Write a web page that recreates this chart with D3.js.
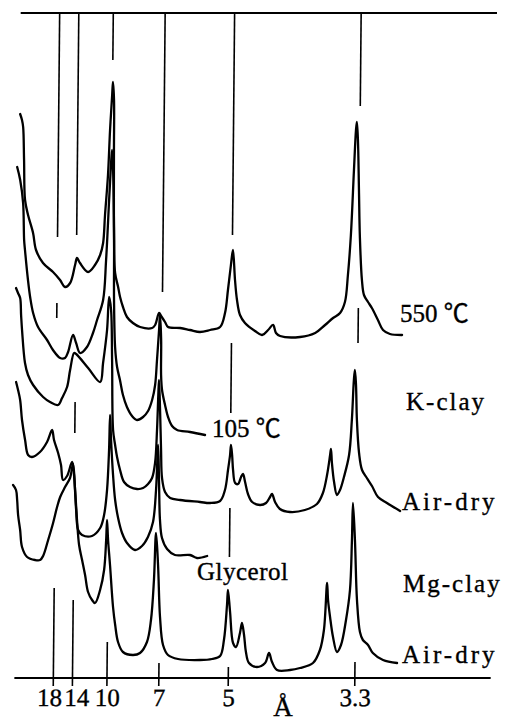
<!DOCTYPE html>
<html>
<head>
<meta charset="utf-8">
<script src="https://cdn.jsdelivr.net/npm/d3@7"></script>
<style>
body { margin: 0; background: #fff; }
.trace { fill: none; stroke: #000; stroke-width: 2.3; stroke-linejoin: round; stroke-linecap: round; }
.ref { stroke: #000; stroke-width: 1.6; }
.lbl { font-family: "Liberation Serif", "Noto Sans CJK JP", serif; fill: #000; stroke: #000; stroke-width: 0.35; }
</style>
</head>
<body>
<div id="chart"></div>
<script>
var svgWidth = 510;
var svgHeight = 722;

// d-spacings marked on the axis (Å)
var dTicks = [18, 14, 10, 7, 5, 3.3];
var tickLabels = ["18", "14", "10", "7", "5", "3.3"];

// frame extent in 2θ (deg)
var frameMin = 2.05;
var frameMax = 36.95;

// traces: [2θ (deg), stacked intensity]
var k550 = [[2.08,564],[2.22,558],[2.31,551],[2.40,518],[2.50,478],[2.73,463],[3.11,445],[3.34,428],[3.86,415],[4.60,406],[5.12,398],[5.49,391],[5.86,395],[6.21,413],[6.35,420],[6.57,415],[7.17,406],[7.67,413],[8.04,423],[8.25,435],[8.37,463],[8.56,503],[8.68,548],[8.81,583],[8.86,596],[8.95,578],[8.98,528],[9.04,448],[9.15,405],[9.38,391],[9.53,381],[9.75,371],[10.05,361],[10.49,355],[11.02,351],[11.90,350],[12.12,353],[12.40,365],[12.55,362],[12.84,356],[13.07,351],[13.95,350],[14.68,348],[15.41,346],[16.15,348],[16.88,351],[17.23,365],[17.43,388],[17.63,413],[17.77,428],[17.94,398],[18.10,378],[18.33,363],[18.70,355],[19.44,347],[19.96,343],[20.40,348],[20.76,353],[20.98,345],[21.28,342],[22.75,341],[23.85,345],[24.57,353],[25.15,360],[25.66,365],[26.01,376],[26.21,403],[26.40,443],[26.58,508],[26.70,548],[26.76,556],[26.85,538],[26.96,488],[27.06,441],[27.24,398],[27.40,383],[27.70,376],[27.99,370],[28.44,358],[28.82,348],[29.33,344],[30.22,343]];

var k105 = [[1.90,511],[2.13,498],[2.36,475],[2.46,438],[2.53,428],[2.77,398],[2.94,381],[3.17,365],[3.54,351],[4.21,338],[4.65,328],[5.18,320],[5.54,320],[5.76,326],[6.11,343],[6.34,335],[6.64,325],[7.14,331],[7.57,345],[7.86,358],[8.29,378],[8.48,418],[8.66,478],[8.77,513],[8.84,528],[8.93,508],[9.05,438],[9.09,378],[9.20,331],[9.36,311],[9.58,298],[9.81,283],[10.11,271],[10.49,262],[10.86,258],[11.30,261],[11.66,267],[11.95,278],[12.16,293],[12.28,318],[12.41,348],[12.47,363],[12.57,338],[12.59,303],[12.67,288],[12.90,273],[13.13,261],[13.43,252],[13.80,248],[14.75,246],[15.85,243]];

var kAir = [[1.90,390],[2.05,385],[2.21,380],[2.29,363],[2.37,348],[2.61,315],[2.84,303],[3.22,293],[3.96,281],[4.47,276],[5.06,273],[5.35,280],[5.71,291],[5.92,308],[6.20,325],[6.35,324],[7.24,310],[8.13,296],[8.33,315],[8.60,348],[8.73,381],[8.88,368],[8.99,318],[9.11,248],[9.27,233],[9.42,221],[9.65,208],[9.95,196],[10.39,191],[10.91,189],[11.35,190],[11.71,194],[12.00,200],[12.21,215],[12.33,248],[12.40,283],[12.44,298],[12.54,268],[12.64,228],[12.73,200],[12.96,186],[13.34,180],[14.07,178],[15.53,176],[16.27,175],[17.00,177],[17.35,188],[17.56,208],[17.70,223],[17.76,233],[17.85,223],[17.93,208],[18.09,195],[18.31,194],[18.52,201],[18.66,204],[18.82,196],[19.04,184],[19.35,176],[19.93,173],[20.37,175],[20.66,181],[20.80,184],[21.03,176],[21.39,169],[22.13,166],[23.22,168],[24.10,174],[24.53,185],[24.82,203],[25.03,223],[25.09,229],[25.17,215],[25.34,196],[25.56,183],[25.78,188],[26.06,201],[26.42,223],[26.60,258],[26.72,298],[26.79,308],[26.88,293],[26.97,258],[27.15,225],[27.38,208],[27.74,200],[28.12,192],[28.57,181],[29.23,175],[30.20,167]];

var mgGly = [[1.97,296],[2.12,288],[2.28,278],[2.43,258],[2.67,238],[2.90,223],[3.19,221],[3.77,226],[4.28,236],[4.64,248],[4.79,238],[5.10,225],[5.32,213],[5.48,198],[5.77,202],[6.13,216],[6.28,203],[6.46,168],[6.62,148],[6.91,143],[7.64,142],[8.23,150],[8.51,163],[8.71,188],[8.83,228],[8.88,263],[8.97,238],[9.14,203],[9.31,178],[9.54,160],[9.84,145],[10.21,135],[10.80,128],[11.31,132],[11.74,141],[12.10,156],[12.30,188],[12.42,233],[12.51,198],[12.61,158],[12.77,140],[13.15,129],[13.73,123],[14.83,123],[15.35,120],[16.09,122]];

var mgAir = [[1.82,193],[2.04,188],[2.13,178],[2.21,163],[2.37,148],[2.52,131],[2.90,121],[3.49,118],[3.85,118],[4.07,122],[4.43,138],[4.78,155],[5.06,171],[5.28,181],[5.63,191],[5.99,200],[6.20,214],[6.37,188],[6.53,158],[6.70,133],[6.93,118],[7.16,103],[7.39,86],[7.69,78],[7.91,75],[8.27,88],[8.55,108],[8.68,138],[8.73,158],[8.82,138],[8.98,113],[9.23,71],[9.40,53],[9.62,36],[9.99,26],[10.72,23],[11.24,25],[11.74,36],[12.02,58],[12.21,98],[12.33,145],[12.50,113],[12.68,61],[12.92,33],[13.29,23],[14.03,19],[15.64,18],[16.52,19],[17.11,22],[17.38,38],[17.58,73],[17.64,88],[17.81,66],[18.05,35],[18.27,31],[18.55,45],[18.69,55],[18.85,43],[19.00,26],[19.23,15],[19.82,11],[20.41,15],[20.69,25],[20.92,16],[21.29,8],[22.24,8],[22.97,10],[23.92,15],[24.42,28],[24.70,48],[24.90,95],[24.98,78],[25.14,61],[25.37,41],[25.67,26],[25.96,33],[26.31,58],[26.58,88],[26.69,138],[26.74,175],[26.91,138],[27.10,78],[27.34,46],[27.56,38],[27.94,33],[28.30,25],[29.05,18],[30.08,15]];

// reference-line pieces: [d (Å), intensity from, intensity to]
var refSegments = [
    [18, 665, 441], [18, 375, 360], [18, 90, -8],
    [14, 665, 443], [14, 276, 245], [14, 78, -8],
    [10, 665, 618], [10, 36, -8],
    [7, 665, 386], [7, 15, -8],
    [5, 665, 443], [5, 335, 265], [5, 170, 121], [5, 11, -8],
    [3.3, 665, 572], [3.3, 370, 335], [3.3, 16, -8]
];

var traces = [k550, k105, kAir, mgGly, mgAir];
var traceNames = ["550 ℃", "105 ℃", "Air-dry", "Glycerol", "Air-dry"];
var groupNames = ["K-clay", "Mg-clay"];

// Bragg, Cu Kα
function twoTheta(d) {
    return 2 * Math.asin(1.5406 / (2 * d)) * 180 / Math.PI;
}

var svg = d3.select("#chart")
    .append("svg")
    .attr("width", svgWidth)
    .attr("height", svgHeight);

var xScale = d3.scaleLinear()
    .domain([twoTheta(18), twoTheta(3.3)])
    .range([56.5, 358]);

var yScale = d3.scaleLinear()
    .domain([0, 665])
    .range([678, 13]);

// the original page is scanned slightly askew
var plot = svg.append("g")
    .attr("transform", "translate(0,345) skewX(-0.545) translate(0,-345)");

// top frame
plot.append("line")
    .attr("x1", xScale(frameMin)).attr("x2", xScale(frameMax))
    .attr("y1", yScale(665)).attr("y2", yScale(665))
    .attr("stroke", "#000").attr("stroke-width", 2);

// bottom axis: tick labels only, line drawn below
var xAxis = plot.append("g")
    .attr("transform", `translate(0, ${yScale(0)})`)
    .call(d3.axisBottom(xScale)
        .tickValues(dTicks.map(twoTheta))
        .tickSize(0)
        .tickFormat((d, i) => tickLabels[i]));

xAxis.select(".domain").remove();
xAxis.selectAll("text")
    .attr("class", "lbl")
    .attr("y", 10)
    .attr("dy", "0.71em")
    .attr("dx", (d, i) => i === 0 ? -4 : (i === 1 ? 4 : 0))
    .style("font-size", "25px");

plot.append("line")
    .attr("x1", xScale(frameMin)).attr("x2", xScale(frameMax))
    .attr("y1", yScale(0)).attr("y2", yScale(0))
    .attr("stroke", "#000").attr("stroke-width", 1.8);

// reference lines
plot.selectAll("line.ref")
    .data(refSegments)
    .enter()
    .append("line")
    .classed("ref", true)
    .attr("x1", d => xScale(twoTheta(d[0])))
    .attr("x2", d => xScale(twoTheta(d[0])))
    .attr("y1", d => yScale(d[1]))
    .attr("y2", d => yScale(d[2]));

// diffraction traces
var line = d3.line()
    .x(d => xScale(d[0]))
    .y(d => yScale(d[1]))
    .curve(d3.curveCatmullRom.alpha(0.5));

plot.selectAll("path.trace")
    .data(traces)
    .enter()
    .append("path")
    .classed("trace", true)
    .attr("d", line);

// labels
var labelPos = [[400, 322], [212, 437], [402, 510], [197, 580], [402, 663]];
svg.selectAll("text.tname")
    .data(traceNames)
    .enter()
    .append("text")
    .attr("class", "lbl tname")
    .attr("x", (d, i) => labelPos[i][0])
    .attr("y", (d, i) => labelPos[i][1])
    .style("font-size", "25px")
    .style("letter-spacing", (d, i) => d === "Air-dry" ? "3px" : (d === "Glycerol" ? "0.5px" : "0px"))
    .text(d => d);

var groupPos = [[406, 410], [403, 592]];
svg.selectAll("text.gname")
    .data(groupNames)
    .enter()
    .append("text")
    .attr("class", "lbl gname")
    .attr("x", (d, i) => groupPos[i][0])
    .attr("y", (d, i) => groupPos[i][1])
    .style("font-size", "25px")
    .style("letter-spacing", "2px")
    .text(d => d);

svg.append("text")
    .attr("class", "lbl")
    .attr("x", 283)
    .attr("y", 716)
    .attr("text-anchor", "middle")
    .style("font-size", "27px")
    .text("Å");
</script>
</body>
</html>
